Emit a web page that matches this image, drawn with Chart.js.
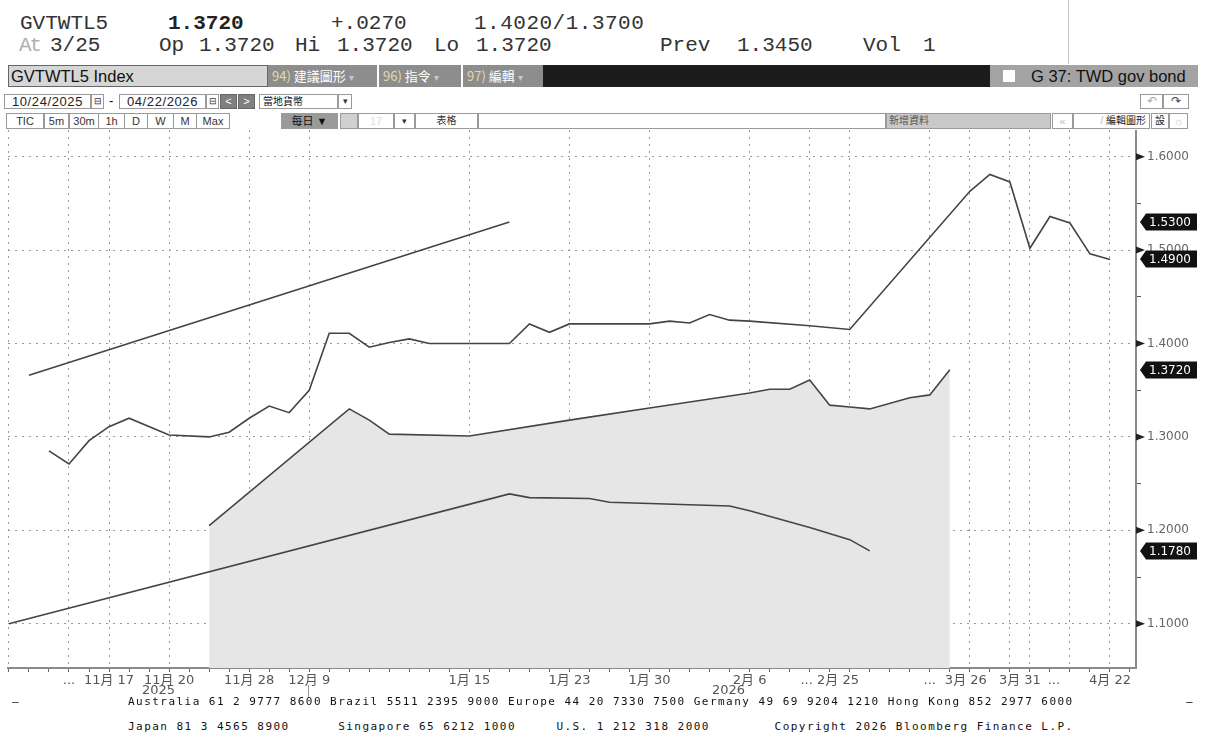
<!DOCTYPE html>
<html>
<head>
<meta charset="utf-8">
<script src="https://cdn.jsdelivr.net/npm/chart.js@4"></script>
<style>
  body { margin: 0; width: 1206px; height: 737px; background: #fff; position: relative; overflow: hidden; font-family: "Liberation Sans", Arial, sans-serif; }
  .a { position: absolute; white-space: pre; }
  .hd { font-family: "Liberation Mono", monospace; font-size: 21px; line-height: 21px; color: #333; }
  .r1 { top: 13px; }
  .r2 { top: 35px; }
  .bar { position: absolute; top: 65px; height: 22px; line-height: 22px; box-sizing: border-box; }
  .btn { background: #8d8d8d; color: #fff; font-size: 13px; font-family: "Noto Sans CJK TC", sans-serif; padding-left: 4px; }
  .btn b { font-weight: normal; color: #e4d9a8; }
  .btn i { font-style: normal; color: #c8c8c8; font-size: 10px; }
  .box { position: absolute; box-sizing: border-box; border: 1px solid #9a9a9a; background: #fff; font-size: 11px; color: #333; text-align: center; font-family: "Liberation Sans", "Noto Sans CJK TC", sans-serif; }
  .r4 { top: 94px; height: 15px; line-height: 13px; }
  .r5 { top: 113px; height: 16px; line-height: 14px; }
  .foot { font-family: "DejaVu Sans Mono", monospace; font-size: 11px; letter-spacing: 1.46px; color: #111; }
  .yr { font-size: 13px; color: #555; font-family: "DejaVu Sans", sans-serif; }
  canvas { position: absolute; left: 0; top: 130px; }
</style>
</head>
<body>
  <!-- quote lines -->
  <div class="a hd r1" style="left:20px">GVTWTL5</div>
  <div class="a hd r1" style="left:168px;font-weight:bold;color:#222">1.3720</div>
  <div class="a hd r1" style="left:331px">+.0270</div>
  <div class="a hd r1" style="left:474px;letter-spacing:0.5px">1.4020/1.3700</div>
  <div class="a hd r2" style="left:19px;color:#b0b0b0;letter-spacing:-2px">At</div>
  <div class="a hd r2" style="left:50px">3/25</div>
  <div class="a hd r2" style="left:159px">Op</div>
  <div class="a hd r2" style="left:199px">1.3720</div>
  <div class="a hd r2" style="left:295px">Hi</div>
  <div class="a hd r2" style="left:337px">1.3720</div>
  <div class="a hd r2" style="left:434px">Lo</div>
  <div class="a hd r2" style="left:476px">1.3720</div>
  <div class="a hd r2" style="left:660px">Prev</div>
  <div class="a hd r2" style="left:737px">1.3450</div>
  <div class="a hd r2" style="left:863px">Vol</div>
  <div class="a hd r2" style="left:923px">1</div>
  <div class="a" style="left:1068px;top:0;width:1px;height:64px;background:#c8c8c8"></div>

  <!-- title bar -->
  <div class="bar" style="left:8px;width:260px;background:#d6d6d6;border:1px solid #666;font-size:16.5px;color:#111;padding-left:2px;line-height:20px">GVTWTL5 Index</div>
  <div class="bar btn" style="left:268px;width:109px"><b>94)</b> 建議圖形 <i>▾</i></div>
  <div class="bar btn" style="left:379px;width:82px"><b>96)</b> 指令 <i>▾</i></div>
  <div class="bar btn" style="left:463px;width:80px"><b>97)</b> 編輯 <i>▾</i></div>
  <div class="bar" style="left:543px;width:447px;background:#1c1c1c"></div>
  <div class="bar" style="left:990px;width:208px;background:#a3a3a3;font-size:16.5px;color:#111;padding-left:41px">G 37: TWD gov bond</div>
  <div class="a" style="left:1003px;top:70px;width:12px;height:12px;background:#fff"></div>

  <!-- date row -->
  <div class="box r4" style="left:4px;width:87px;font-size:13px;letter-spacing:0.6px;color:#222">10/24/2025</div>
  <div class="box r4" style="left:91px;width:13px;font-size:9px">⊟</div>
  <div class="a" style="left:109px;top:93px;font-size:13px">-</div>
  <div class="box r4" style="left:119px;width:87px;font-size:13px;letter-spacing:0.6px;color:#222">04/22/2026</div>
  <div class="box r4" style="left:206px;width:13px;font-size:9px">⊟</div>
  <div class="box r4" style="left:220px;width:17px;background:#808080;color:#fff;border-color:#666">&lt;</div>
  <div class="box r4" style="left:238px;width:17px;background:#808080;color:#fff;border-color:#666">&gt;</div>
  <div class="box r4" style="left:259px;width:79px;text-align:left;padding-left:3px;font-size:10px;color:#111">當地貨幣</div>
  <div class="box r4" style="left:338px;width:14px;font-size:9px">▾</div>
  <div class="box r4" style="left:1140px;width:23px;color:#aaa;font-size:12px">↶</div>
  <div class="box r4" style="left:1163px;width:26px;color:#444;font-size:12px">↷</div>

  <!-- period row -->
  <div class="box r5" style="left:6px;width:38px">TIC</div>
  <div class="box r5" style="left:44px;width:25px">5m</div>
  <div class="box r5" style="left:69px;width:30px">30m</div>
  <div class="box r5" style="left:98px;width:27px">1h</div>
  <div class="box r5" style="left:124px;width:24px">D</div>
  <div class="box r5" style="left:147px;width:27px">W</div>
  <div class="box r5" style="left:173px;width:24px">M</div>
  <div class="box r5" style="left:196px;width:34px">Max</div>
  <div class="box r5" style="left:281px;width:57px;background:#9a9a9a;color:#111;font-size:11px">每日 ▼</div>
  <div class="box r5" style="left:340px;width:18px;background:#d0d0d0"></div>
  <div class="box r5" style="left:358px;width:36px;color:#ddd">17</div>
  <div class="box r5" style="left:394px;width:21px;font-size:9px">▾</div>
  <div class="box r5" style="left:415px;width:63px;font-size:10px">表格</div>
  <div class="box r5" style="left:478px;width:408px"></div>
  <div class="box r5" style="left:886px;width:165px;background:#c9c9c9;text-align:left;padding-left:2px;font-size:10px;color:#555">新增資料</div>
  <div class="box r5" style="left:1052px;width:21px;color:#bbb">«</div>
  <div class="box r5" style="left:1073px;width:77px;text-align:right;padding-right:3px;font-size:10px;color:#222"><span style="color:#bbb">/</span> 編輯圖形</div>
  <div class="box r5" style="left:1151px;width:18px;font-size:10px;color:#222">設</div>
  <div class="box r5" style="left:1169px;width:19px;color:#ccc">☼</div>

  <canvas id="chart" width="1206" height="560"></canvas>

  <!-- footer -->
  <div class="a yr" style="left:142px;top:682px">2025</div>
  <div class="a yr" style="left:712px;top:682px">2026</div>
  <div class="a" style="left:308px;top:685px;width:1px;height:12px;background:#999"></div>
  <div class="a foot" style="left:12px;top:695px">—</div>
  <div class="a foot" style="left:1186px;top:695px">—</div>
  <div class="a foot" style="left:128px;top:695px">Australia 61 2 9777 8600 Brazil 5511 2395 9000 Europe 44 20 7330 7500 Germany 49 69 9204 1210 Hong Kong 852 2977 6000</div>
  <div class="a foot" style="left:128px;top:720px">Japan 81 3 4565 8900      Singapore 65 6212 1000     U.S. 1 212 318 2000        Copyright 2026 Bloomberg Finance L.P.</div>

<script>
// x positions are observation slots (Bloomberg collapses gaps with "...")
const slotCount = 57;
const tickSlots = [3, 5, 8, 12, 15, 23, 28, 32, 37, 41, 46, 47.8, 50.5, 52.2, 55];
const tickText = ['...', '11月 17', '11月 20', '11月 28', '12月 9', '1月 15', '1月 23', '1月 30', '2月 6', '... 2月 25', '...', '3月 26', '3月 31', '...', '4月 22'];
const gridSlots = [0, 3, 5, 8, 12, 15, 23, 28, 32, 37, 40, 42, 46, 48, 50, 51, 53, 55];
const yTickValues = [1.10, 1.15, 1.20, 1.25, 1.30, 1.35, 1.40, 1.45, 1.50, 1.55, 1.60];

// upper trend line
const trendHiSlots = [1, 25];
const trendHiValues = [1.366, 1.530];

// GVTWTL5 yield
const gvtSlots = [2, 3, 4, 5, 6, 8, 10, 11, 12, 13, 14, 15, 16, 17, 18, 19, 20, 21, 25, 26, 27, 28, 32, 33, 34, 35, 36, 37, 40, 42, 48, 49, 50, 51, 52, 53, 54, 55];
const gvtValues = [1.285, 1.271, 1.296, 1.311, 1.320, 1.302, 1.300, 1.305, 1.320, 1.333, 1.326, 1.350, 1.411, 1.411, 1.396, 1.401, 1.405, 1.400, 1.400, 1.421, 1.412, 1.421, 1.421, 1.424, 1.422, 1.431, 1.425, 1.424, 1.419, 1.415, 1.563, 1.581, 1.573, 1.502, 1.536, 1.529, 1.496, 1.490];

// shaded series
const areaSlots = [10, 17, 18, 19, 23, 28, 32, 37, 38, 39, 40, 41, 42, 43, 45, 46, 47];
const areaValues = [1.205, 1.330, 1.318, 1.303, 1.301, 1.318, 1.331, 1.347, 1.351, 1.351, 1.361, 1.334, 1.332, 1.330, 1.342, 1.345, 1.372];

// lower line
const trendLoSlots = [0, 25, 26, 29, 30, 36, 37, 40, 42, 43];
const trendLoValues = [1.100, 1.239, 1.235, 1.234, 1.230, 1.226, 1.221, 1.203, 1.190, 1.178];

function points(slots, values) {
  return slots.map((s, i) => ({ x: s, y: values[i] }));
}
function isMajor(v) {
  return Math.abs(v * 10 - Math.round(v * 10)) < 1e-6;
}

const lineStyle = { borderColor: '#444', borderWidth: 1.6, pointRadius: 0, tension: 0, fill: false };

const lastValueTags = {
  id: 'lastValueTags',
  afterDraw(chart) {
    const { ctx, chartArea } = chart;
    const y = chart.scales.y;
    const r = chartArea.right;
    ctx.save();
    yTickValues.filter(isMajor).forEach(v => {
      const py = y.getPixelForValue(v);
      ctx.fillStyle = '#222';
      ctx.beginPath();
      ctx.moveTo(r, py - 3.5);
      ctx.lineTo(r + 9, py);
      ctx.lineTo(r, py + 3.5);
      ctx.fill();
    });
    chart.data.datasets.forEach(ds => {
      const last = ds.data[ds.data.length - 1].y;
      const py = Math.round(y.getPixelForValue(last));
      const x0 = r + 4, x1 = r + 61, h = 17;
      ctx.fillStyle = '#111';
      ctx.beginPath();
      ctx.moveTo(x0, py);
      ctx.lineTo(x0 + 6, py - h / 2);
      ctx.lineTo(x1, py - h / 2);
      ctx.lineTo(x1, py + h / 2);
      ctx.lineTo(x0 + 6, py + h / 2);
      ctx.closePath();
      ctx.fill();
      ctx.fillStyle = '#fff';
      ctx.font = '12px "DejaVu Sans"';
      ctx.textBaseline = 'middle';
      ctx.fillText(last.toFixed(4), x0 + 9, py + 1);
    });
    ctx.restore();
  }
};

new Chart(document.getElementById('chart'), {
  type: 'line',
  data: {
    datasets: [
      { data: points(trendHiSlots, trendHiValues), ...lineStyle },
      { data: points(gvtSlots, gvtValues), ...lineStyle },
      { data: points(trendLoSlots, trendLoValues), ...lineStyle },
      // last so it is painted first, under the other lines
      { data: points(areaSlots, areaValues), ...lineStyle, fill: 'start', backgroundColor: '#e6e6e6' }
    ]
  },
  options: {
    responsive: false,
    animation: false,
    layout: { padding: { left: 8, top: 0, right: 0, bottom: 0 }, autoPadding: false },
    plugins: { legend: { display: false }, tooltip: { enabled: false } },
    scales: {
      x: {
        type: 'linear',
        min: -0.047,
        max: 56.3,
        z: 1,
        afterBuildTicks: (scale) => {
          const slots = Array.from({ length: slotCount }, (_, k) => k);
          scale.ticks = [...new Set([...slots, ...tickSlots])].sort((a, b) => a - b).map(v => ({ value: v }));
        },
        afterFit: (scale) => {
          scale.height = 22;
          scale.paddingLeft = 0;
          scale.paddingRight = 0;
        },
        grid: {
          color: (c) => gridSlots.includes(c.tick.value) ? '#9a9a9a' : 'rgba(0,0,0,0)',
          lineWidth: 1,
          tickColor: (c) => Number.isInteger(c.tick.value) ? '#666' : 'rgba(0,0,0,0)',
          tickLength: 4
        },
        border: { display: true, color: '#8a8a8a', width: 2, dash: [2, 5] },
        ticks: {
          autoSkip: false,
          maxRotation: 0,
          minRotation: 0,
          padding: 1,
          color: '#555',
          font: { family: '"DejaVu Sans", "Noto Sans CJK TC", sans-serif', size: 13 },
          callback: (v) => {
            const i = tickSlots.indexOf(v);
            return i >= 0 ? tickText[i] : '';
          }
        }
      },
      y: {
        position: 'right',
        min: 1.0526,
        max: 1.6286,
        z: 1,
        afterBuildTicks: (scale) => {
          scale.ticks = yTickValues.map(v => ({ value: v }));
        },
        afterFit: (scale) => {
          scale.width = 70;
          scale.paddingTop = 0;
          scale.paddingBottom = 0;
        },
        grid: {
          color: (c) => isMajor(c.tick.value) ? '#9a9a9a' : 'rgba(0,0,0,0)',
          lineWidth: 1,
          tickColor: (c) => isMajor(c.tick.value) ? 'rgba(0,0,0,0)' : '#555',
          tickLength: 5
        },
        border: { display: true, color: '#8a8a8a', width: 2, dash: [2, 5] },
        ticks: {
          padding: 6,
          color: '#666',
          font: { family: '"DejaVu Sans", sans-serif', size: 12 },
          callback: (v) => isMajor(v) ? v.toFixed(4) : ''
        }
      }
    }
  },
  plugins: [lastValueTags]
});
</script>
</body>
</html>
